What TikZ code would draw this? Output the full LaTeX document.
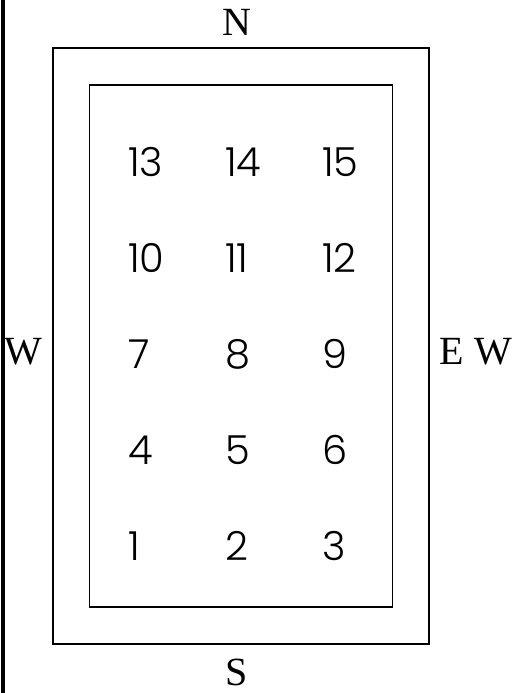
\documentclass[tikz,border=0pt]{standalone}
\usepackage{fontspec}
\setmainfont{Liberation Serif}
\newfontfamily\numfont{Poppins Light}
\usepackage{tikz}
\usetikzlibrary{positioning}

\begin{document}
\begin{tikzpicture}[x=1pt,y=-1pt,
    cardinal/.style={font=\fontsize{40}{40}\selectfont, inner sep=0pt},
    num/.style={anchor=base west, inner sep=0pt, font=\numfont\fontsize{40}{40}\selectfont},
    frame/.style={line width=1.2pt}]
\useasboundingbox (0,0) rectangle (520,693);
% mur à gauche
\draw[line width=4pt] (3,0) -- (3,693);
% cadres
\draw[frame] (53,48) rectangle (429,644);
\draw[frame] (89.5,85) rectangle (392.5,607);
% points cardinaux
\node (nord) at (237,22) [cardinal] {N};
\node (sud) at (237,672) [cardinal] {S};
\node (ouest) at (23,352) [cardinal] {W};
\node (est) at (476,352) [cardinal] {E W};
% numeros des places
\foreach \r in {0,...,4} {
  \foreach \c in {0,1,2} {
    \pgfmathtruncatemacro\n{\r*3+\c+1}
    \node (p\n) at (128+\c*97,560-\r*96) [num] {\n};
  }
}
\end{tikzpicture}
\end{document}
